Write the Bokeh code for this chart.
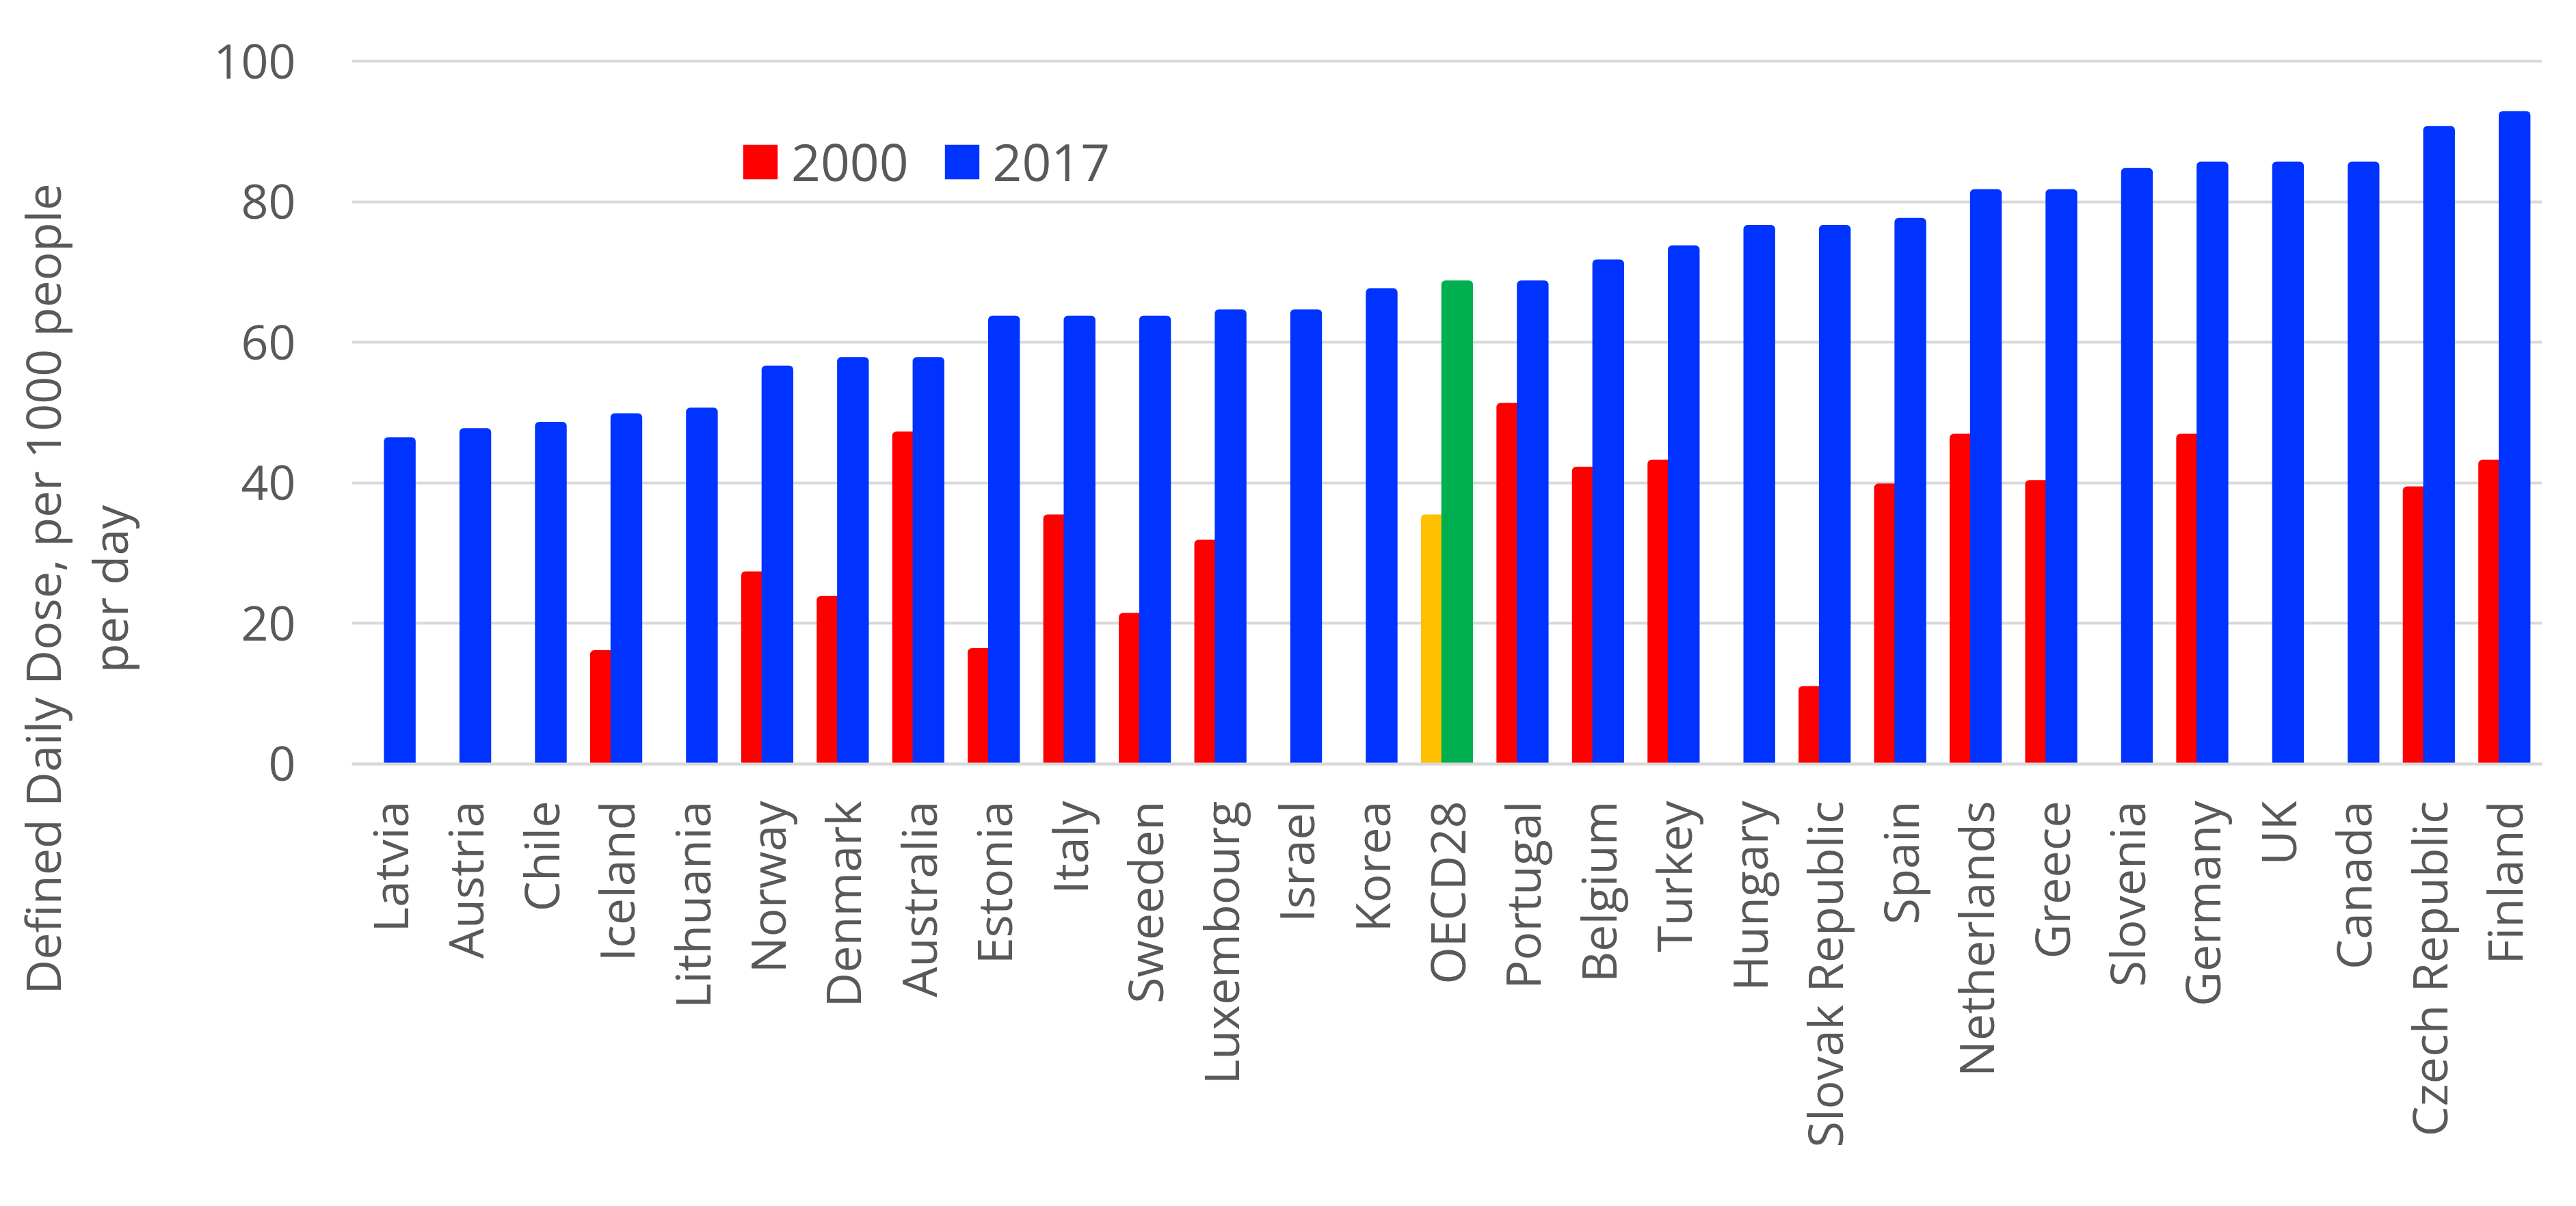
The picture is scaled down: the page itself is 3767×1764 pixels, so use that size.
import math
from bokeh.plotting import figure
from bokeh.models import FactorRange, Range1d, Legend, LegendItem, FixedTicker, ColumnDataSource
from bokeh.transform import dodge
from bokeh.embed import file_html
from bokeh.resources import INLINE

nan = float("nan")

countries = ["Latvia", "Austria", "Chile", "Iceland", "Lithuania", "Norway", "Denmark",
             "Australia", "Estonia", "Italy", "Sweeden", "Luxembourg", "Israel", "Korea",
             "OECD28", "Portugal", "Belgium", "Turkey", "Hungary", "Slovak Republic",
             "Spain", "Netherlands", "Greece", "Slovenia", "Germany", "UK", "Canada",
             "Czech Republic", "Finland"]

values_2000 = [nan, nan, nan, 16.2, nan, 27.4, 23.9, 47.3, 16.5, 35.5, 21.5, 31.9, nan, nan,
               35.5, 51.4, 42.3, 43.3, nan, 11.1, 39.9, 47.0, 40.4, nan, 47.0, nan, nan,
               39.5, 43.3]

values_2017 = [46.5, 47.8, 48.7, 49.9, 50.7, 56.7, 57.9, 57.9, 63.8, 63.8, 63.8, 64.7, 64.7,
               67.7, 68.8, 68.8, 71.8, 73.8, 76.7, 76.7, 77.7, 81.8, 81.8, 84.8, 85.7, 85.7,
               85.7, 90.8, 92.9]

y_ticks = [0, 20, 40, 60, 80, 100]
y_label = "Defined Daily Dose, per 1000 people\nper day"

RED, BLUE, YELLOW, GREEN = "#FF0000", "#0033FF", "#FFC000", "#00B050"
col_2000 = [YELLOW if c == "OECD28" else RED for c in countries]
col_2017 = [GREEN if c == "OECD28" else BLUE for c in countries]

src = ColumnDataSource(dict(country=countries, v2000=values_2000, v2017=values_2017,
                            c2000=col_2000, c2017=col_2017))

FONT = "Open Sans"
GREY = "#595959"

# The frame spans the whole chart height (like Excel's chart area used for
# centring the axis title); the category axis is pinned at y=0.
Y_MIN, Y_MAX = -58.86, 108.67

p = figure(width=3751, height=1748, x_range=FactorRange(*countries, range_padding=0),
           y_range=Range1d(Y_MIN, Y_MAX), output_backend="svg", toolbar_location=None,
           min_border_left=514, min_border_right=34, min_border_top=0, min_border_bottom=26)
p.outline_line_color = None
p.background_fill_color = "white"

r0 = p.vbar(x=dodge("country", -0.135, range=p.x_range), top="v2000", bottom=0, width=0.42,
            source=src, fill_color="c2000", line_color=None, border_radius=(6, 6, 0, 0))
r1 = p.vbar(x=dodge("country", 0.135, range=p.x_range), top="v2017", bottom=0, width=0.42,
            source=src, fill_color="c2017", line_color=None, border_radius=(6, 6, 0, 0))

p.xgrid.grid_line_color = None
p.ygrid.grid_line_color = "#D9D9D9"
p.ygrid.grid_line_width = 4
p.yaxis.ticker = FixedTicker(ticks=y_ticks)

p.yaxis.axis_line_color = None
p.yaxis.major_tick_line_color = None
p.yaxis.major_tick_out = 0
p.yaxis.minor_tick_line_color = None
p.yaxis.major_label_text_font = FONT
p.yaxis.major_label_text_font_size = "70px"
p.yaxis.major_label_text_color = GREY
p.yaxis.major_label_standoff = 82
p.yaxis.axis_label = y_label
p.yaxis.axis_label_text_font = FONT
p.yaxis.axis_label_text_font_size = "70px"
p.yaxis.axis_label_text_font_style = "normal"
p.yaxis.axis_label_text_color = GREY
p.yaxis.axis_label_text_line_height = 1.03
p.yaxis.axis_label_standoff = 101

p.xaxis.fixed_location = 0
p.xaxis.axis_line_color = "#D9D9D9"
p.xaxis.axis_line_width = 4
p.xaxis.major_tick_line_color = None
p.xaxis.major_tick_out = 0
p.xaxis.minor_tick_line_color = None
p.xaxis.major_label_orientation = math.pi / 2
p.xaxis.major_label_text_font = FONT
p.xaxis.major_label_text_font_size = "70px"
p.xaxis.major_label_text_color = GREY
p.xaxis.major_label_standoff = 54

legend = Legend(items=[LegendItem(label="2000", renderers=[r0], index=0),
                       LegendItem(label="2017", renderers=[r1], index=0)],
                orientation="horizontal", location=(566, 1435),
                glyph_width=63, glyph_height=63, label_standoff=14, spacing=46,
                padding=0, margin=0, border_line_color=None, background_fill_alpha=0,
                label_text_font=FONT, label_text_font_size="75px", label_text_color=GREY)
p.add_layout(legend, "center")

open("out.html", "w").write(file_html(p, INLINE))
